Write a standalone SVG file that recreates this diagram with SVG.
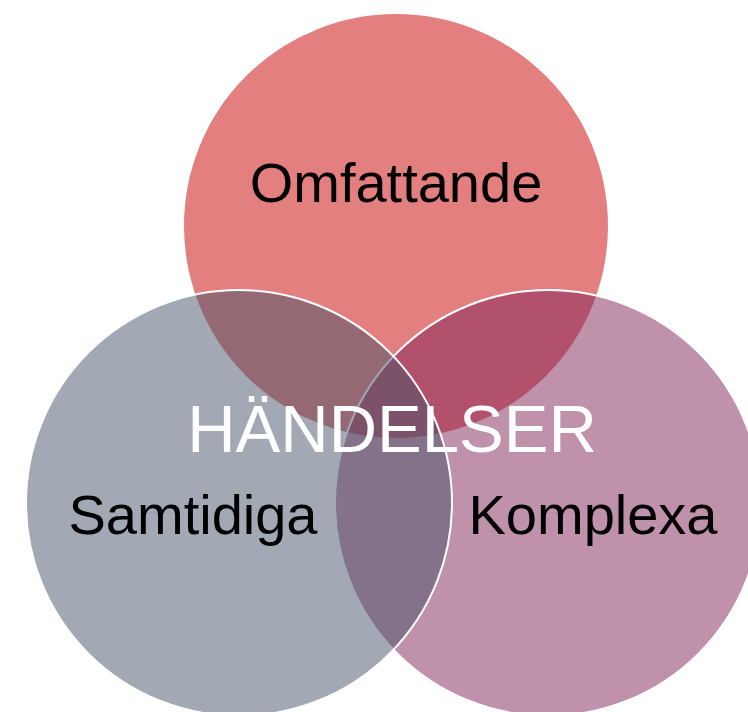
<svg xmlns="http://www.w3.org/2000/svg" width="748" height="712" viewBox="0 0 748 712">
<style>
.c{fill-opacity:0.5;stroke:#FFFFFF;stroke-width:2}
.t{font-family:"Liberation Sans",Arial,sans-serif;font-size:56px;fill:#000000;text-anchor:middle}
.m{font-family:"Liberation Sans",Arial,sans-serif;font-size:67px;fill:#FFFFFF;text-anchor:middle}
</style>
<rect width="748" height="712" fill="#FFFFFF"/>
<g id="omfattande">
<circle class="c" cx="396" cy="226" r="213" fill="#C70000"/>
</g>
<g id="komplexa">
<circle class="c" cx="548" cy="503" r="213" fill="#812357"/>
</g>
<g id="samtidiga">
<circle class="c" cx="239" cy="503" r="213" fill="#455369"/>
</g>
<g id="labels">
<text class="t" x="396" y="202">Omfattande</text>
<text class="t" x="193" y="534">Samtidiga</text>
<text class="t" x="593" y="534">Komplexa</text>
</g>
<g id="handelser">
<text class="m" x="392" y="452">HÄNDELSER</text>
</g>
<g id="connectors"/>
</svg>
